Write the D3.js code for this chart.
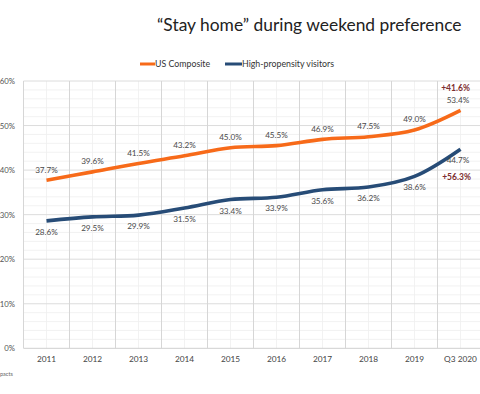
<!DOCTYPE html>
<html>
<head>
<meta charset="utf-8">
<script src="https://cdn.jsdelivr.net/npm/d3@7"></script>
<style>
  html, body { margin: 0; padding: 0; background: #fff; overflow: hidden; }
  svg { display: block; font-family: Lato, "Open Sans", sans-serif; }
</style>
</head>
<body>
<svg id="chart" width="480" height="394"></svg>
<script>
const categories = ["2011","2012","2013","2014","2015","2016","2017","2018","2019","Q3 2020"];
const usComposite = [37.7, 39.6, 41.5, 43.2, 45.0, 45.5, 46.9, 47.5, 49.0, 53.4];
const highPropensity = [28.6, 29.5, 29.9, 31.5, 33.4, 33.9, 35.6, 36.2, 38.6, 44.7];
const yTicks = [0, 10, 20, 30, 40, 50, 60];
const seriesNames = ["US Composite", "High-propensity visitors"];
const changeLabels = ["+41.6%", "+56.3%"];
const titleText = "\u201CStay home\u201D during weekend preference";

const svg = d3.select("#chart");
const colors = ["#F76A19", "#274C77"];

const x = d3.scaleBand().domain(categories).range([23.5, 483.5]).padding(0);
const y = d3.scaleLinear().domain([0, 60]).range([348.3, 81]);
const cx = c => x(c) + x.bandwidth() / 2;

// minor horizontal grid (every 2%)
const minor = d3.range(0, 61, 2).filter(v => v % 10 !== 0);
svg.append("g").selectAll("line").data(minor).join("line")
  .attr("x1", 23.5).attr("x2", 483.5)
  .attr("y1", d => y(d)).attr("y2", d => y(d))
  .attr("stroke", "#efefef").attr("stroke-width", 0.8);
// minor vertical grid at category centres
svg.append("g").selectAll("line").data(categories).join("line")
  .attr("x1", d => cx(d)).attr("x2", d => cx(d))
  .attr("y1", y(60)).attr("y2", y(0))
  .attr("stroke", "#efefef").attr("stroke-width", 0.8);
// major horizontal grid
svg.append("g").selectAll("line").data(yTicks).join("line")
  .attr("x1", 23.5).attr("x2", 483.5)
  .attr("y1", d => y(d)).attr("y2", d => y(d))
  .attr("stroke", d => d === 0 ? "#cfcfcf" : "#dcdcdc").attr("stroke-width", 1);
// major vertical grid at category boundaries
svg.append("g").selectAll("line").data(categories).join("line")
  .attr("x1", d => x(d)).attr("x2", d => x(d))
  .attr("y1", y(60)).attr("y2", y(0))
  .attr("stroke", "#d6d6d6").attr("stroke-width", 1);

// axes
const yAxis = svg.append("g").attr("transform", "translate(23.5,0)")
  .call(d3.axisLeft(y).tickValues(yTicks).tickFormat(d => d + "%").tickSize(0).tickPadding(8.5));
yAxis.select(".domain").remove();
yAxis.selectAll("text").attr("fill", "#555").style("font-size", "7.8px").style("font-family", "Lato, sans-serif");

const xAxis = svg.append("g").attr("transform", `translate(0,${y(0)})`)
  .call(d3.axisBottom(x).tickSize(0).tickPadding(8));
xAxis.select(".domain").remove();
xAxis.selectAll("text").attr("fill", "#444").style("font-size", "8.3px").style("font-family", "Lato, sans-serif");

// lines
const line = d3.line().x(d => cx(d.c)).y(d => y(d.v)).curve(d3.curveCatmullRom.alpha(0.5));
const series = [usComposite, highPropensity].map(arr => arr.map((v, i) => ({ c: categories[i], v })));
series.forEach((s, i) => {
  svg.append("path").datum(s).attr("d", line)
    .attr("fill", "none").attr("stroke", colors[i]).attr("stroke-width", 3.6)
    .attr("stroke-linecap", "butt");
});

// data labels
series.forEach((s, i) => {
  svg.append("g").selectAll("text").data(s).join("text")
    .attr("x", (d, j) => cx(d.c) - (j === s.length - 1 ? 2.5 : 0))
    .attr("y", d => y(d.v) + (i === 0 ? -7.8 : 14))
    .attr("text-anchor", "middle")
    .attr("fill", "#4a4a4a").style("font-size", "8.2px")
    .text(d => d.v.toFixed(1) + "%");
});

// change annotations
const last = categories[categories.length - 1];
svg.append("text").attr("x", cx(last) - 5).attr("y", 91)
  .attr("text-anchor", "middle").attr("fill", "#7E2F2F")
  .style("font-size", "8.5px").style("font-weight", "bold").text(changeLabels[0]);
svg.append("text").attr("x", cx(last) - 4).attr("y", 180)
  .attr("text-anchor", "middle").attr("fill", "#7E2F2F")
  .style("font-size", "8.5px").style("font-weight", "bold").text(changeLabels[1]);

// legend
const legend = svg.append("g");
const legendItems = [{ x: 140, tx: 155 }, { x: 225, tx: 242 }];
seriesNames.forEach((n, i) => {
  legend.append("line").attr("x1", legendItems[i].x).attr("x2", legendItems[i].tx)
    .attr("y1", 64).attr("y2", 64).attr("stroke", colors[i]).attr("stroke-width", 3);
  legend.append("text").attr("x", legendItems[i].tx).attr("y", 67)
    .attr("fill", "#333").style("font-size", "8.8px").text(n);
});

// title
svg.append("text").attr("x", 157).attr("y", 31)
  .attr("fill", "#222").style("font-size", "17.4px").text(titleText);

// partial logo text
svg.append("text").attr("x", 0).attr("y", 376)
  .attr("fill", "#666").style("font-size", "5.5px").text("pacts");
</script>
</body>
</html>
